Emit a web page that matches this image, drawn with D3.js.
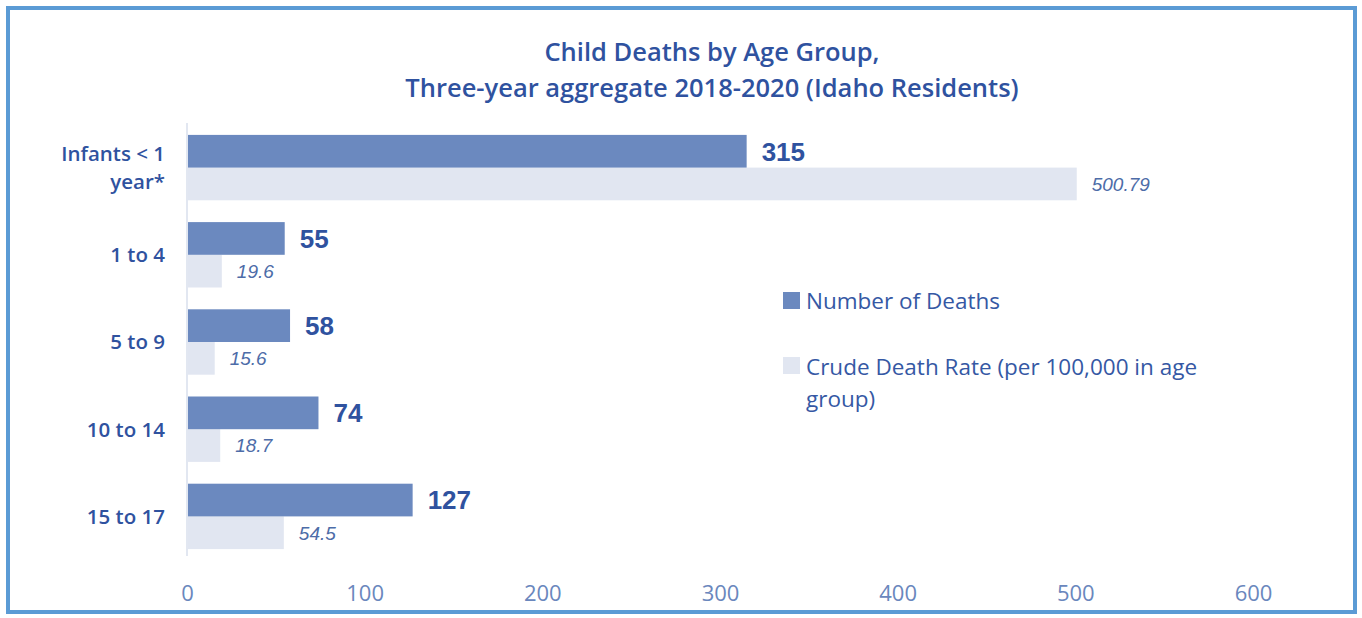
<!DOCTYPE html>
<html>
<head>
<meta charset="utf-8">
<script src="https://cdn.jsdelivr.net/npm/d3@7"></script>
<style>
  body { margin: 0; background: #fff; }
  svg { display: block; }
</style>
</head>
<body>
<svg id="chart" width="1362" height="618"></svg>
<script>
// data
var categories = ["Infants < 1 year*", "1 to 4", "5 to 9", "10 to 14", "15 to 17"];
var categoryLines = [["Infants < 1", "year*"], ["1 to 4"], ["5 to 9"], ["10 to 14"], ["15 to 17"]];
var deaths = [315, 55, 58, 74, 127];
var rates = [500.79, 19.6, 15.6, 18.7, 54.5];
var rateLabels = ["500.79", "19.6", "15.6", "18.7", "54.5"];
var xTicks = [0, 100, 200, 300, 400, 500, 600];
var seriesNames = ["Number of Deaths", "Crude Death Rate (per 100,000 in age group)"];

var darkBlue = "#2f529f";
var darkBar = "#6b89bf";
var lightBar = "#e1e6f1";

var svg = d3.select("#chart");

// outer frame
svg.append("rect")
    .attr("x", 8).attr("y", 8)
    .attr("width", 1347).attr("height", 604)
    .attr("fill", "none")
    .attr("stroke", "#5b9bd5")
    .attr("stroke-width", 4);

// title
var title = svg.append("text")
    .attr("text-anchor", "middle")
    .attr("font-family", "'Open Sans', sans-serif")
    .attr("font-weight", 600)
    .attr("font-size", 25.5)
    .attr("fill", darkBlue);
title.append("tspan").attr("x", 712).attr("y", 61).text("Child Deaths by Age Group,");
title.append("tspan").attr("x", 712).attr("y", 97).text("Three-year aggregate 2018-2020 (Idaho Residents)");

var x = d3.scaleLinear().domain([0, 600]).range([187, 1253]);
var y = d3.scaleBand().domain(categories).range([124, 560]).paddingInner(0.25).paddingOuter(0.125);
var sub = d3.scaleBand().domain(["deaths", "rates"]).range([0, y.bandwidth()]);

// vertical axis line
svg.append("line")
    .attr("x1", x(0)).attr("x2", x(0))
    .attr("y1", 123).attr("y2", 556)
    .attr("stroke", "#d9dfec")
    .attr("stroke-width", 1.5);

var groups = svg.append("g").selectAll("g")
    .data(categories)
    .enter().append("g")
    .attr("transform", function(d) { return "translate(0," + y(d) + ")"; });

groups.append("rect")
    .attr("x", x(0) + 1)
    .attr("y", sub("rates"))
    .attr("width", function(d, i) { return x(rates[i]) - x(0) - 1; })
    .attr("height", sub.bandwidth())
    .attr("fill", lightBar);

groups.append("rect")
    .attr("x", x(0) + 1)
    .attr("y", sub("deaths"))
    .attr("width", function(d, i) { return x(deaths[i]) - x(0) - 1; })
    .attr("height", sub.bandwidth())
    .attr("fill", darkBar);

groups.append("text")
    .attr("x", function(d, i) { return x(deaths[i]) + 15; })
    .attr("y", sub("deaths") + sub.bandwidth() / 2)
    .attr("dy", "0.36em")
    .attr("font-family", "'Liberation Sans', Arial, sans-serif")
    .attr("font-weight", "bold")
    .attr("font-size", 26)
    .attr("fill", darkBlue)
    .text(function(d, i) { return deaths[i]; });

groups.append("text")
    .attr("x", function(d, i) { return x(rates[i]) + 15; })
    .attr("y", sub("rates") + sub.bandwidth() / 2)
    .attr("dy", "0.36em")
    .attr("font-family", "'Liberation Sans', Arial, sans-serif")
    .attr("font-style", "italic")
    .attr("font-size", 19)
    .attr("fill", "#4d6ca8")
    .text(function(d, i) { return rateLabels[i]; });

// category labels
groups.append("text")
    .attr("text-anchor", "end")
    .attr("font-family", "'Open Sans', sans-serif")
    .attr("font-weight", 600)
    .attr("font-size", 20.5)
    .attr("fill", darkBlue)
    .each(function(d, i) {
        var lines = categoryLines[i];
        var mid = y.bandwidth() / 2;
        var t = d3.select(this);
        lines.forEach(function(l, j) {
            t.append("tspan")
                .attr("x", 165)
                .attr("y", mid + (j - (lines.length - 1) / 2) * 28)
                .attr("dy", "0.36em")
                .text(l);
        });
    });

// x axis labels
var xAxis = svg.append("g")
    .attr("transform", "translate(0,593)")
    .call(d3.axisBottom(x).tickValues(xTicks).tickSize(0).tickPadding(0));
xAxis.select(".domain").remove();
xAxis.selectAll("text")
    .attr("dy", "0.36em")
    .attr("font-family", "'Open Sans', sans-serif")
    .attr("font-size", 22)
    .attr("fill", "#6a87bd");

// legend
var legend = svg.append("g").attr("font-family", "'Open Sans', sans-serif").attr("font-size", 22.5).attr("fill", "#3558a4");
legend.append("rect").attr("x", 783).attr("y", 292).attr("width", 17).attr("height", 17).attr("fill", darkBar);
legend.append("text").attr("x", 806).attr("y", 301).attr("dy", "0.36em").text(seriesNames[0]);
legend.append("rect").attr("x", 783).attr("y", 357).attr("width", 17).attr("height", 17).attr("fill", lightBar);
var l2 = legend.append("text").attr("x", 806).attr("y", 367).attr("dy", "0.36em");
l2.append("tspan").attr("x", 806).text("Crude Death Rate (per 100,000 in age");
l2.append("tspan").attr("x", 806).attr("dy", 32).text("group)");
</script>
</body>
</html>
